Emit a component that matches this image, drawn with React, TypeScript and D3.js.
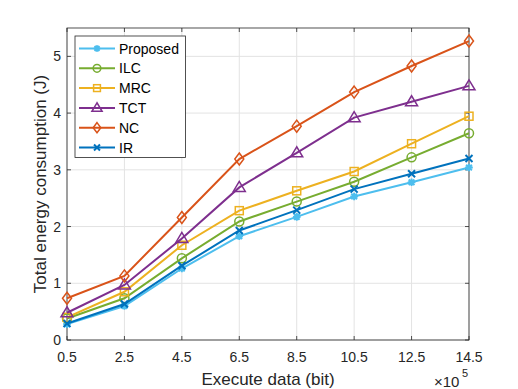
import React from 'react';
import * as d3 from 'd3';

const xValues = [0.5, 2.5, 4.5, 6.5, 8.5, 10.5, 12.5, 14.5];
const xTicks = [0.5, 2.5, 4.5, 6.5, 8.5, 10.5, 12.5, 14.5];
const yTicks = [0, 1, 2, 3, 4, 5];

const proposed = [0.28, 0.6, 1.26, 1.83, 2.17, 2.53, 2.78, 3.04];
const ilc = [0.38, 0.735, 1.44, 2.09, 2.44, 2.79, 3.22, 3.645];
const mrc = [0.4, 0.85, 1.67, 2.28, 2.63, 2.97, 3.46, 3.945];
const tct = [0.48, 0.97, 1.79, 2.69, 3.3, 3.92, 4.2, 4.48];
const nc = [0.735, 1.13, 2.16, 3.19, 3.77, 4.37, 4.83, 5.27];
const ir = [0.29, 0.635, 1.31, 1.93, 2.29, 2.66, 2.93, 3.2];

const series = [
  { name: 'Proposed', values: proposed, color: '#4DBEEE', marker: 'star' },
  { name: 'ILC', values: ilc, color: '#77AC30', marker: 'circle' },
  { name: 'MRC', values: mrc, color: '#EDB120', marker: 'square' },
  { name: 'TCT', values: tct, color: '#7E2F8E', marker: 'triangle' },
  { name: 'NC', values: nc, color: '#D95319', marker: 'diamond' },
  { name: 'IR', values: ir, color: '#0072BD', marker: 'x' },
];

const W = 518;
const H = 389;
const m = { left: 67, right: 469, top: 28, bottom: 340 };
const font = '"Liberation Sans", Arial, Helvetica, sans-serif';
const axisColor = '#262626';

const Marker = ({ type, x, y, color, k = 1 }: { type: string; x: number; y: number; color: string; k?: number }) => {
  const sw = 1.5;
  if (type === 'circle') return <circle cx={x} cy={y} r={4.5 * k} fill="none" stroke={color} strokeWidth={sw} />;
  if (type === 'square')
    return <rect x={x - 4 * k} y={y - 4 * k} width={8 * k} height={8 * k} fill="none" stroke={color} strokeWidth={sw} />;
  if (type === 'triangle') {
    const p = `${x},${y - 6 * k} ${x - 6 * k},${y + 4 * k} ${x + 6 * k},${y + 4 * k}`;
    return <polygon points={p} fill="none" stroke={color} strokeWidth={sw} />;
  }
  if (type === 'diamond') {
    const p = `${x},${y - 6 * k} ${x + 4.5 * k},${y} ${x},${y + 6 * k} ${x - 4.5 * k},${y}`;
    return <polygon points={p} fill="none" stroke={color} strokeWidth={sw} />;
  }
  if (type === 'x') {
    const s = 3.5 * k;
    return (
      <path d={`M${x - s},${y - s}L${x + s},${y + s}M${x - s},${y + s}L${x + s},${y - s}`} stroke={color} strokeWidth={2} />
    );
  }
  // asterisk
  const s = 3.8 * k;
  return (
    <path
      d={`M${x - s},${y}L${x + s},${y}M${x},${y - s}L${x},${y + s}M${x - s * 0.75},${y - s * 0.75}L${x + s * 0.75},${y + s * 0.75}M${x - s * 0.75},${y + s * 0.75}L${x + s * 0.75},${y - s * 0.75}`}
      stroke={color}
      strokeWidth={2}
    />
  );
};

export default function App() {
  const x = d3.scaleLinear().domain([0.5, 14.5]).range([m.left, m.right]);
  const y = d3.scaleLinear().domain([0, 5.5]).range([m.bottom, m.top]);

  const line = d3
    .line<number>()
    .x((_, i) => x(xValues[i]))
    .y(d => y(d));

  const legendRows = [48.5, 68.3, 88.1, 107.9, 127.7, 147.5];

  return (
    <svg width={W} height={H} style={{ position: 'absolute', left: 0, top: 0, background: '#fff' }} fontFamily={font}>
      <rect x={0} y={0} width={W} height={H} fill="#fff" />
      {/* grid */}
      {xTicks.map(t => (
        <line key={'gx' + t} x1={x(t)} x2={x(t)} y1={m.top} y2={m.bottom} stroke="#e3e3e3" strokeWidth={1} />
      ))}
      {yTicks.map(t => (
        <line key={'gy' + t} x1={m.left} x2={m.right} y1={y(t)} y2={y(t)} stroke="#e3e3e3" strokeWidth={1} />
      ))}
      {/* frame */}
      <rect x={m.left} y={m.top} width={m.right - m.left} height={m.bottom - m.top} fill="none" stroke={axisColor} strokeWidth={0.8} />
      {xTicks.map(t => (
        <g key={'tx' + t}>
          <line x1={x(t)} x2={x(t)} y1={m.bottom} y2={m.bottom - 4} stroke={axisColor} strokeWidth={0.8} />
          <line x1={x(t)} x2={x(t)} y1={m.top} y2={m.top + 4} stroke={axisColor} strokeWidth={0.8} />
          <text x={x(t)} y={362} textAnchor="middle" fontSize={14} fill={axisColor}>
            {t}
          </text>
        </g>
      ))}
      {yTicks.map(t => (
        <g key={'ty' + t}>
          <line x1={m.left} x2={m.left + 4} y1={y(t)} y2={y(t)} stroke={axisColor} strokeWidth={0.8} />
          <line x1={m.right} x2={m.right - 4} y1={y(t)} y2={y(t)} stroke={axisColor} strokeWidth={0.8} />
          <text x={61} y={y(t) + 5} textAnchor="end" fontSize={14} fill={axisColor}>
            {t}
          </text>
        </g>
      ))}
      {/* series */}
      {series.map(s => (
        <g key={s.name}>
          <path d={line(s.values) || ''} fill="none" stroke={s.color} strokeWidth={2} />
          {s.values.map((v, i) => (
            <Marker key={i} type={s.marker} x={x(xValues[i])} y={y(v)} color={s.color} />
          ))}
        </g>
      ))}
      {/* labels */}
      <text x={268} y={385} textAnchor="middle" fontSize={17} fill={axisColor}>
        Execute data (bit)
      </text>
      <text x={434} y={387} fontSize={15} fill={axisColor}>
        ×10
      </text>
      <text x={462} y={377} fontSize={11} fill={axisColor}>
        5
      </text>
      <text
        transform={`translate(46,${(m.top + m.bottom) / 2}) rotate(-90)`}
        textAnchor="middle"
        fontSize={17}
        fill={axisColor}
      >
        Total energy consumption (J)
      </text>
      {/* legend */}
      <rect x={75} y={36} width={110.5} height={121.5} fill="#fff" stroke={axisColor} strokeWidth={0.8} />
      {series.map((s, i) => (
        <g key={'lg' + s.name}>
          <line x1={79} x2={115} y1={legendRows[i]} y2={legendRows[i]} stroke={s.color} strokeWidth={2} />
          <Marker type={s.marker} x={97} y={legendRows[i]} color={s.color} k={0.85} />
          <text x={119} y={legendRows[i] + 5} fontSize={14} fill="#000">
            {s.name}
          </text>
        </g>
      ))}
    </svg>
  );
}
